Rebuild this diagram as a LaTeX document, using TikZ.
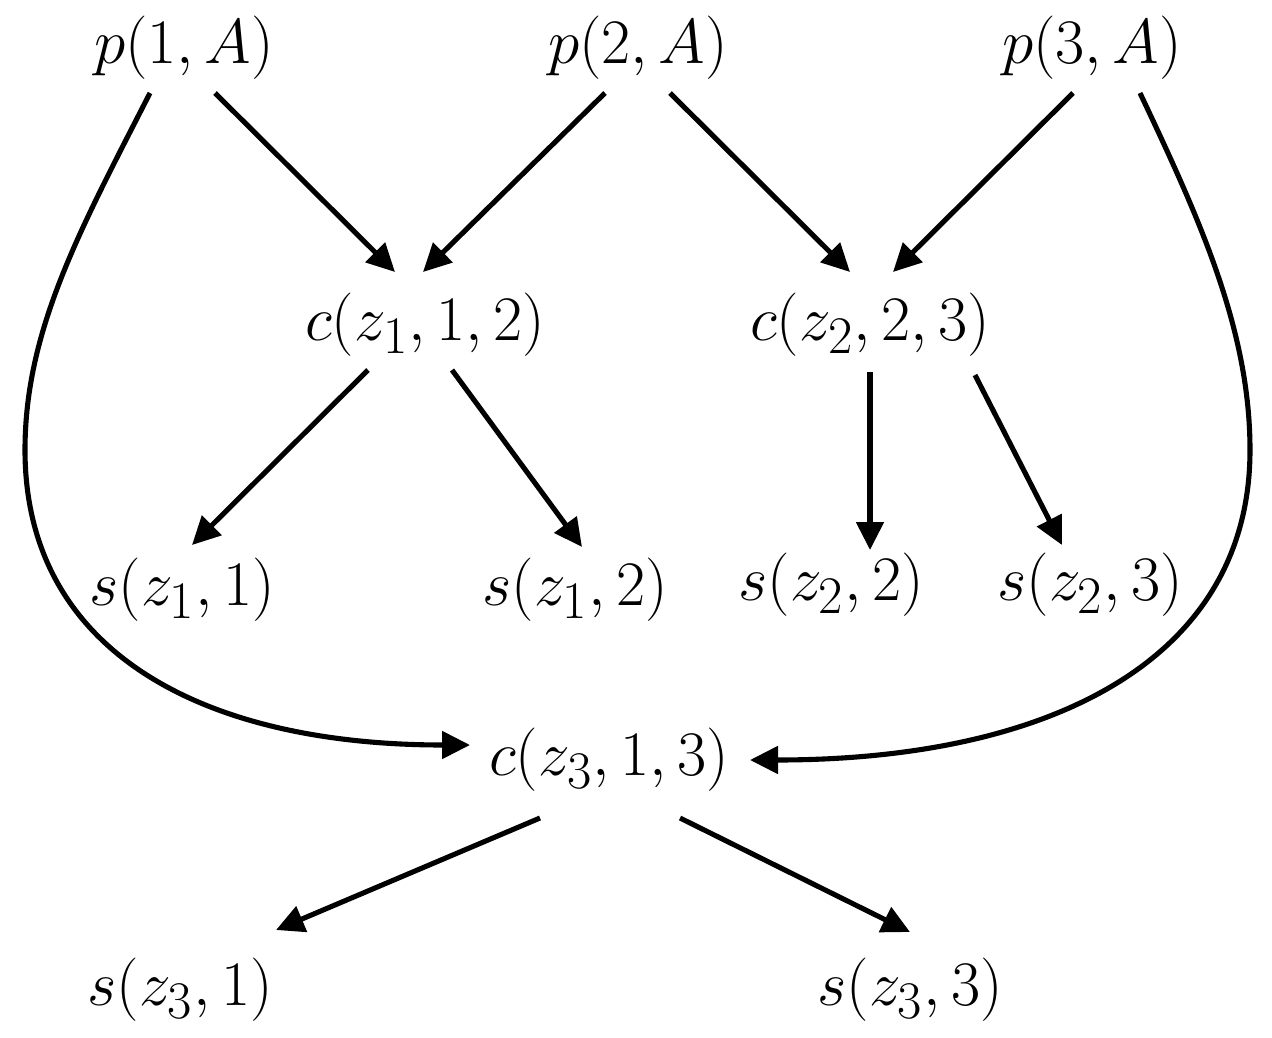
\documentclass[tikz,border=0pt]{standalone}
\usetikzlibrary{arrows.meta,calc}
\newcommand{\mylbl}[1]{\scalebox{1.45}{$#1$}}
\begin{document}
\begin{tikzpicture}[x=0.02cm,y=-0.02cm,
  lbl/.style={inner sep=0pt,font=\Huge},
  arr/.style={line width=2.9pt,-{Triangle[length=0.56cm,width=0.54cm]}}]
\useasboundingbox (0,0) rectangle (1272,1038);
\node[lbl] (p1) at (184,48) {\mylbl{p(1,A)}};
\node[lbl] (p2) at (638,48) {\mylbl{p(2,A)}};
\node[lbl] (p3) at (1092,48) {\mylbl{p(3,A)}};
\node[lbl] (c12) at (425,325) {\mylbl{c(z_1,1,2)}};
\node[lbl] (c23) at (870,325) {\mylbl{c(z_2,2,3)}};
\node[lbl] (s11) at (182,590) {\mylbl{s(z_1,1)}};
\node[lbl] (s12) at (575,590) {\mylbl{s(z_1,2)}};
\node[lbl] (s22) at (831,585) {\mylbl{s(z_2,2)}};
\node[lbl] (s23) at (1090,585) {\mylbl{s(z_2,3)}};
\node[lbl] (c13) at (609,760) {\mylbl{c(z_3,1,3)}};
\node[lbl] (s31) at (180,990) {\mylbl{s(z_3,1)}};
\node[lbl] (s33) at (910,990) {\mylbl{s(z_3,3)}};
\draw[arr] ($(p1)+(31,45)$) -- ($(c12)+(-30,-53)$);
\draw[arr] ($(p2)+(-33,45)$) -- ($(c12)+(-2,-53)$);
\draw[arr] ($(p2)+(32,45)$) -- ($(c23)+(-20,-53)$);
\draw[arr] ($(p3)+(-19,45)$) -- ($(c23)+(23,-53)$);
\draw[arr] ($(c12)+(-57,45)$) -- ($(s11)+(10,-45)$);
\draw[arr] ($(c12)+(27,45)$) -- ($(s12)+(7,-43)$);
\draw[arr] ($(c23)+(0,47)$) -- ($(s22)+(39,-35)$);
\draw[arr] ($(c23)+(105,50)$) -- ($(s23)+(-28,-40)$);
\draw[arr] ($(c13)+(-69,58)$) -- ($(s31)+(96,-60)$);
\draw[arr] ($(c13)+(71,58)$) -- ($(s33)+(0,-58)$);
\draw[arr] ($(p1)+(-34,45)$) .. controls (80,230) and (25,330) .. (25,450)
  .. controls (25,650) and (200,745) .. ($(c13)+(-139,-15)$);
\draw[arr] ($(p3)+(48,45)$) .. controls (1200,220) and (1250,330) .. (1250,450)
  .. controls (1250,660) and (1050,760) .. ($(c13)+(141,0)$);
\end{tikzpicture}
\end{document}
